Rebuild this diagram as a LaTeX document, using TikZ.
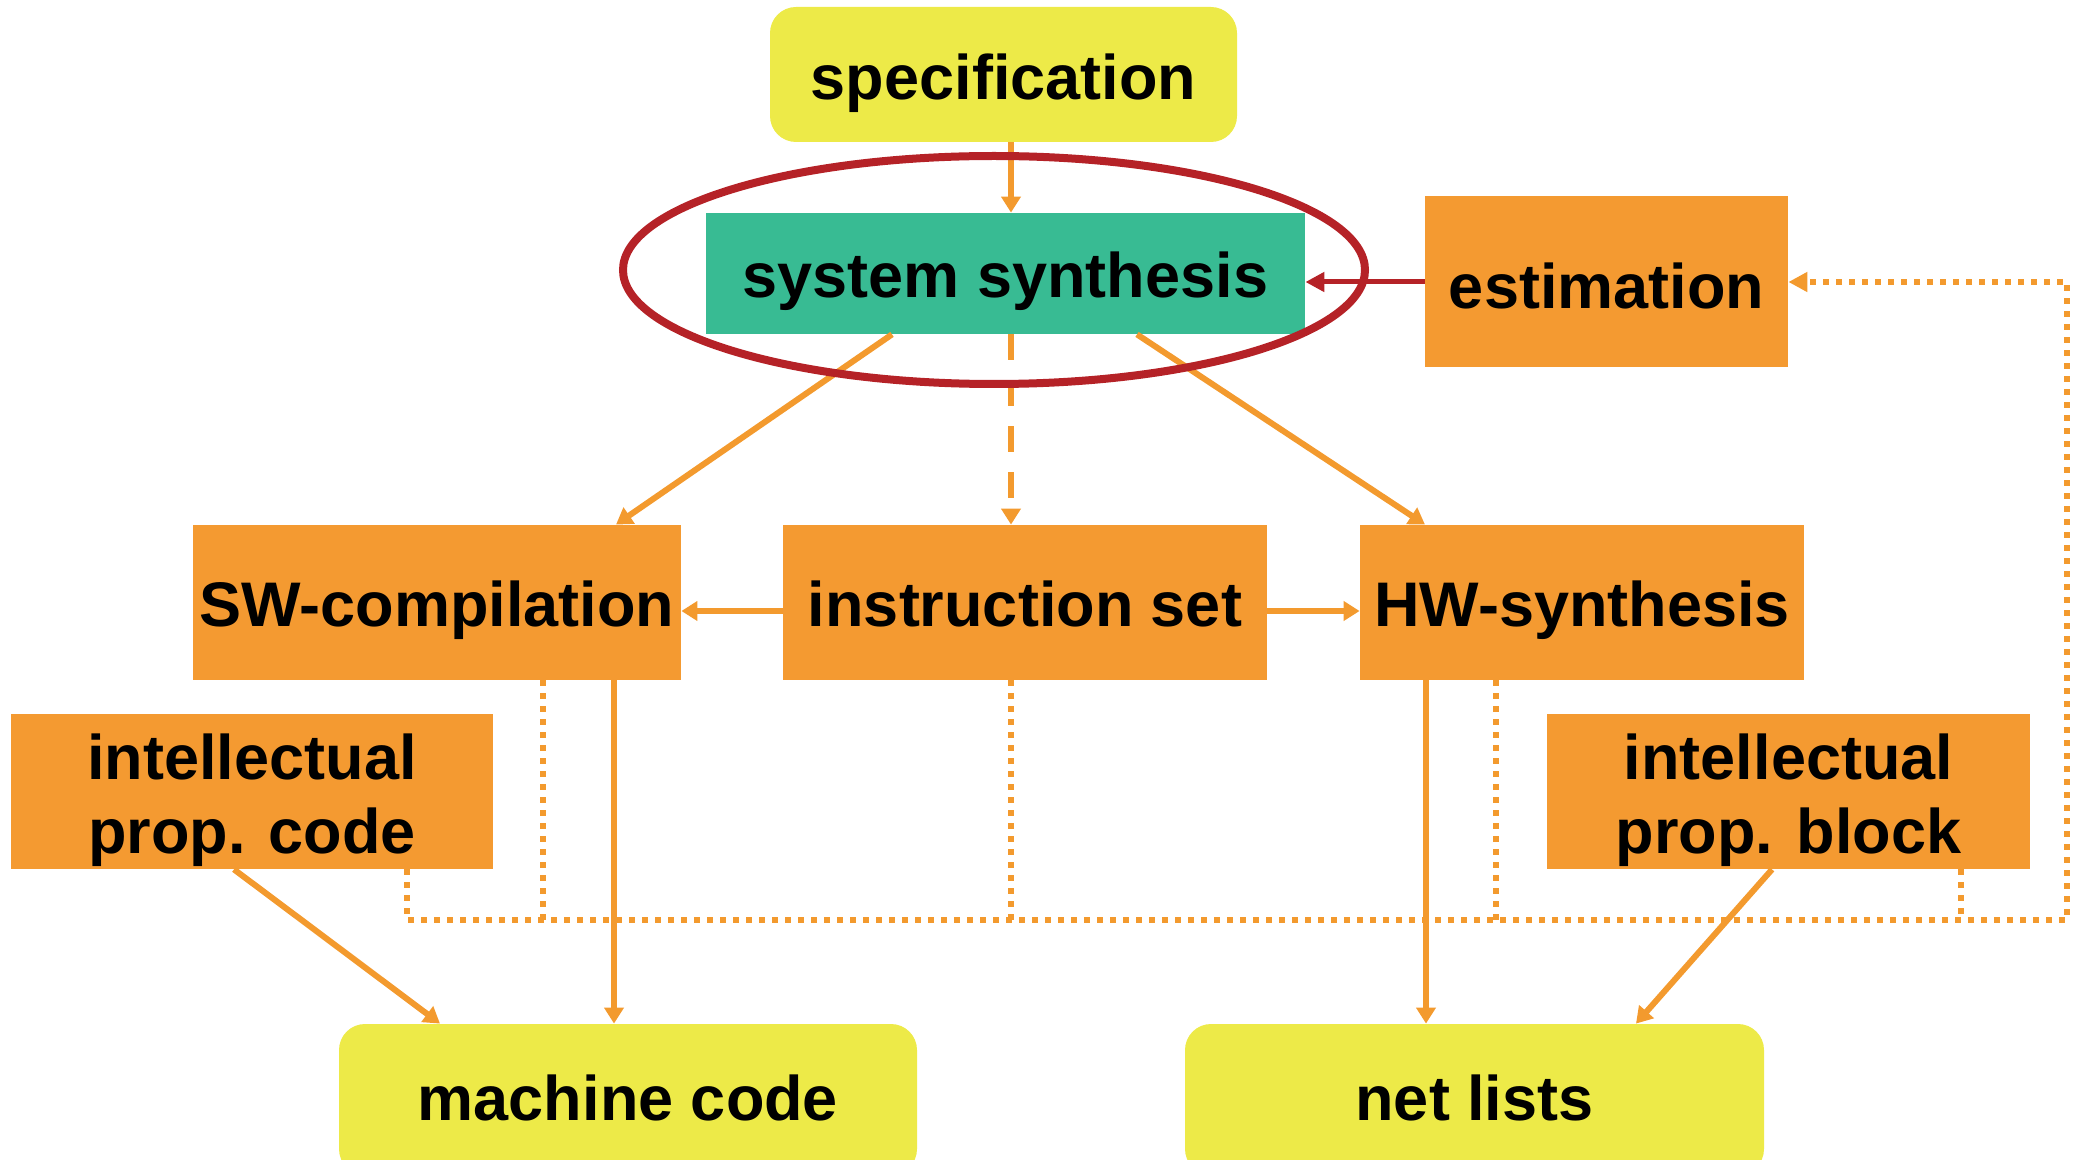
\documentclass[tikz,border=0pt]{standalone}
\usepackage{fontspec}
\setmainfont{Liberation Sans}
\usetikzlibrary{arrows.meta}
\definecolor{specyellow}{HTML}{EDEA48}
\definecolor{synteal}{HTML}{38BB93}
\definecolor{boxorange}{HTML}{F49A31}
\definecolor{lineorange}{HTML}{F39A2E}
\definecolor{ellred}{HTML}{B52227}
\begin{document}
\begin{tikzpicture}[x=0.5pt,y=-0.5pt,
  base/.style={inner sep=0pt},
  lbl/.style={inner sep=0pt, font=\bfseries\fontsize{31.5}{37}\selectfont, align=center, text=black},
  yellowbox/.style={base, fill=specyellow, rounded corners=13pt},
  orangebox/.style={base, fill=boxorange},
  tealbox/.style={base, fill=synteal},
  conn/.style={draw=lineorange, line width=3pt, -{Triangle[length=8pt,width=9.5pt]}},
  dashconn/.style={conn, dash pattern=on 13pt off 10pt},
  redconn/.style={draw=ellred, line width=2.5pt, -{Triangle[length=9.5pt,width=9.5pt]}},
  dotbus/.style={draw=lineorange, line width=3pt, dash pattern=on 3pt off 3.5pt},
]
\useasboundingbox (0,0) rectangle (2078,1160);
\clip (0,0) rectangle (2078,1160);

% boxes
\node[yellowbox, minimum width=233.5pt, minimum height=67.5pt] (spec) at (1003.5,74.5) {};
\node[tealbox, minimum width=299.5pt, minimum height=60.5pt] (sys) at (1005.5,273.5) {};
\node[orangebox, minimum width=181.5pt, minimum height=85.5pt] (est) at (1606.5,281.5) {};
\node[orangebox, minimum width=244pt, minimum height=77.5pt] (sw) at (437,602.5) {};
\node[orangebox, minimum width=242pt, minimum height=77.5pt] (instr) at (1025,602.5) {};
\node[orangebox, minimum width=222pt, minimum height=77.5pt] (hw) at (1582,602.5) {};
\node[orangebox, minimum width=241pt, minimum height=77.5pt] (ipcode) at (252,791.5) {};
\node[orangebox, minimum width=241.5pt, minimum height=77.5pt] (ipblock) at (1788.5,791.5) {};
\node[yellowbox, minimum width=289pt, minimum height=75.5pt] (mc) at (628,1099.5) {};
\node[yellowbox, minimum width=289.5pt, minimum height=75.5pt] (nl) at (1474.5,1099.5) {};

% labels
\node[lbl, yshift=-4.5pt] (specT) at (spec.center) {specification};
\node[lbl, yshift=-4pt] (sysT) at (sys.center) {system synthesis};
\node[lbl, yshift=-2pt] (estT) at (est.center) {estimation};
\node[lbl, yshift=-4pt] (swT) at (sw.center) {SW-compilation};
\node[lbl, yshift=-0.5pt] (instrT) at (instr.center) {instruction set};
\node[lbl, yshift=-4pt] (hwT) at (hw.center) {HW-synthesis};
\node[lbl, yshift=-4.5pt] (ipcodeT) at (ipcode.center) {intellectual\\prop. code};
\node[lbl, yshift=-4.5pt] (ipblockT) at (ipblock.center) {intellectual\\prop. block};
\node[lbl, yshift=1pt] (mcT) at (mc.center) {machine code};
\node[lbl, yshift=1pt] (nlT) at (nl.center) {net lists};

% dotted feedback bus
\draw[dotbus, -{Triangle[length=9.5pt,width=9.5pt]}] (ipcode.south -| 407,0) -- (407,920) -- (2067,920) -- (2067,282) -- (est.east |- 0,282);
\draw[dotbus] (sw.south -| 543,0) -- (543,920);
\draw[dotbus] (instr.south -| 1011,0) -- (1011,920);
\draw[dotbus] (hw.south -| 1496,0) -- (1496,920);
\draw[dotbus] (ipblock.south -| 1961,0) -- (1961,920);

% solid connectors
\draw[conn] (spec.south -| 1011,0) -- (sys.north -| 1011,0);
\draw[dashconn] (sys.south -| 1011,0) -- (instr.north -| 1011,0);
\draw[conn] (sys.south -| 892,0) -- (sw.north -| 616,0);
\draw[conn] (sys.south -| 1137,0) -- (hw.north -| 1425,0);
\draw[conn] (instr.west |- 0,611) -- (sw.east |- 0,611);
\draw[conn] (instr.east |- 0,611) -- (hw.west |- 0,611);
\draw[conn] (sw.south -| 614,0) -- (mc.north -| 614,0);
\draw[conn] (ipcode.south -| 234,0) -- (mc.north -| 440,0);
\draw[conn] (hw.south -| 1426,0) -- (nl.north -| 1426,0);
\draw[conn] (ipblock.south -| 1772,0) -- (nl.north -| 1636,0);

% estimation feedback
\draw[redconn] (est.west |- 0,282) -- (sys.east |- 0,282);

% highlight ellipse
\draw[ellred, line width=4pt] (994,270) ellipse [x radius=185.5pt, y radius=57pt];
\end{tikzpicture}
\end{document}
